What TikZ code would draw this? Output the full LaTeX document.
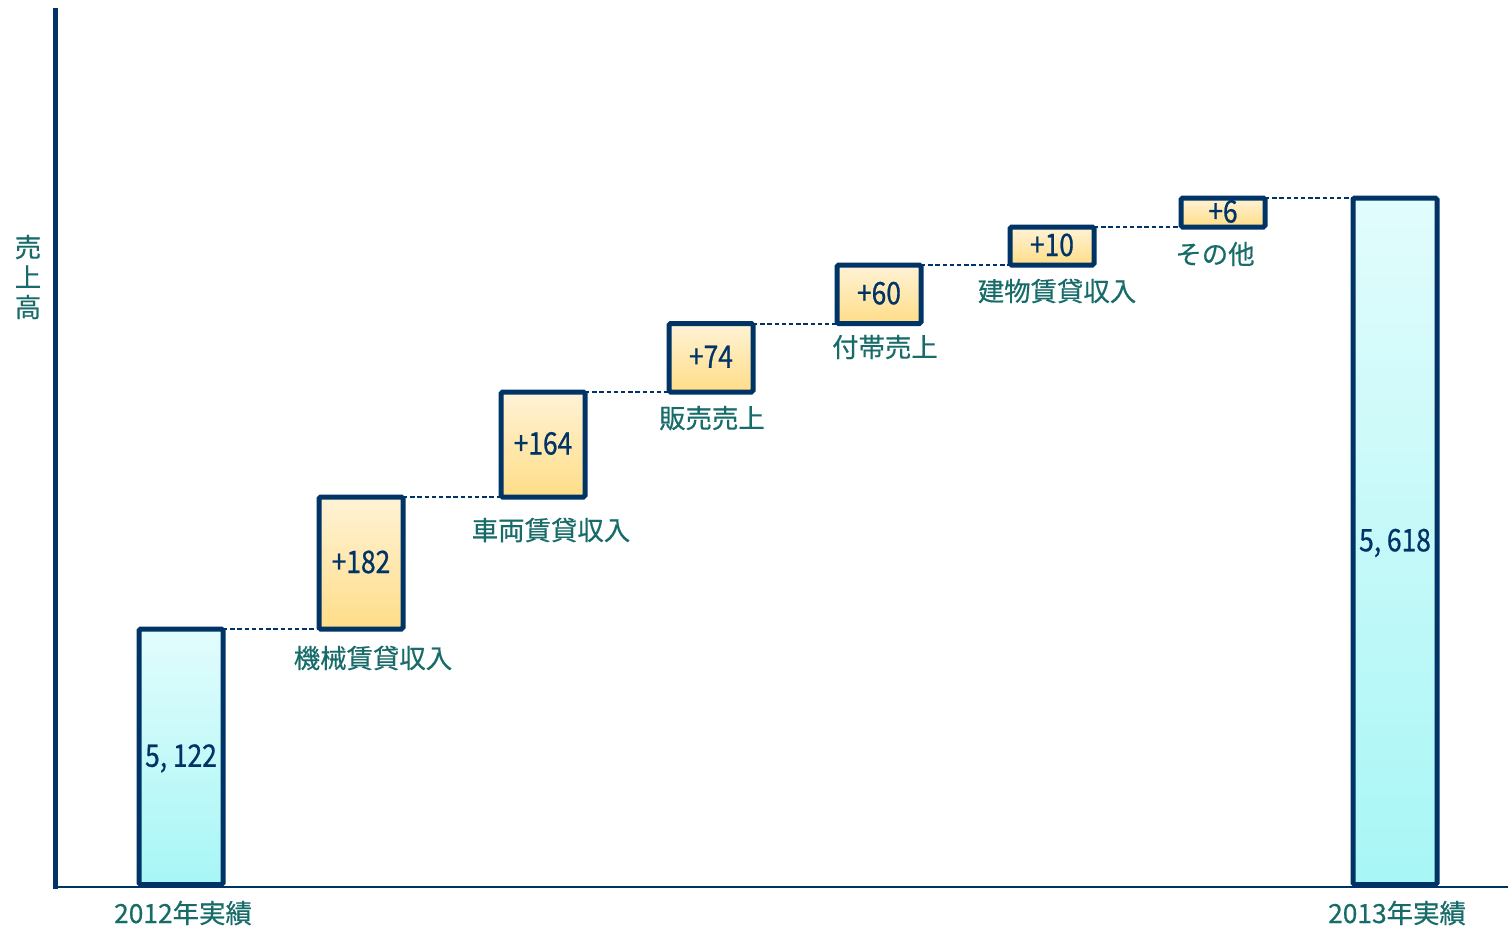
\documentclass[tikz,border=0pt]{standalone}
\usepackage{fontspec}
\setmainfont[FakeBold=0.5]{Noto Sans CJK JP}
\newfontfamily\numfont[FakeStretch=0.85,FakeBold=0.7]{Noto Sans CJK JP}
\definecolor{navy}{RGB}{0,51,102}
\definecolor{labteal}{RGB}{23,108,105}
\definecolor{uptop}{RGB}{255,243,214}
\definecolor{upbot}{RGB}{255,221,136}
\definecolor{totop}{RGB}{226,252,252}
\definecolor{tobot}{RGB}{168,246,246}
\begin{document}
\begin{tikzpicture}[x=0.5pt,y=-0.5pt,
  box/.style={draw=navy, line width=2.5pt, rounded corners=0.8pt, inner sep=0pt, outer sep=0pt,
    minimum width=42pt, text height=10pt, text depth=0pt,
    font=\numfont\fontsize{15.5pt}{15.5pt}\selectfont, text=navy},
  upbox/.style={box, top color=uptop, bottom color=upbot},
  totbox/.style={box, top color=totop, bottom color=tobot},
  lab/.style={text=labteal, font=\fontsize{13.2pt}{15pt}\selectfont, inner sep=0pt},
  link/.style={draw=navy, line width=1pt, dash pattern=on 2.2pt off 1.4pt},
  axisv/.style={draw=navy, line width=2.5pt},
  axish/.style={draw=navy, line width=1pt}]
\useasboundingbox (0,0) rectangle (1508,928);
% axes
\coordinate (vtop) at (55,8);
\coordinate (vbot) at (55,889);
\coordinate (hleft) at (55,887);
\coordinate (hright) at (1508,887);
\draw[axisv] (vtop) -- (vbot);
\draw[axish] (hleft) -- (hright);
% bars and boxes
\node[totbox, minimum height=127.75pt] (b1) at (181,756.75) {5, 122};
\node[upbox, minimum height=66pt] (p1) at (361,563) {+182};
\node[upbox, minimum height=52.5pt] (p2) at (543,444.5) {+164};
\node[upbox, minimum height=34.25pt] (p3) at (711,357.75) {+74};
\node[upbox, minimum height=29.25pt] (p4) at (879,294.25) {+60};
\node[upbox, minimum height=19pt] (p5) at (1052,246) {+10};
\node[upbox, minimum height=14.5pt] (p6) at (1223,212.5) {+6};
\node[totbox, minimum height=343.25pt] (b2) at (1395,541.25) {5, 618};
% links
\draw[link] (b1.north east) -- (p1.south west);
\draw[link] (p1.north east) -- (p2.south west);
\draw[link] (p2.north east) -- (p3.south west);
\draw[link] (p3.north east) -- (p4.south west);
\draw[link] (p4.north east) -- (p5.south west);
\draw[link] (p5.north east) -- (p6.south west);
\draw[link] (p6.north east) -- (b2.north west);
% labels
\node[lab] (l1) at (373,658) {機械賃貸収入};
\node[lab] (l2) at (551,530) {車両賃貸収入};
\node[lab] (l3) at (712,418) {販売売上};
\node[lab] (l4) at (885,347) {付帯売上};
\node[lab] (l5) at (1057,291) {建物賃貸収入};
\node[lab] (l6) at (1215,254) {その他};
\node[lab] (x1) at (183,913) {2012年実績};
\node[lab] (x2) at (1397,913) {2013年実績};
\node[lab, align=center] (ylab) at (28,277) {売\\上\\高};
\end{tikzpicture}
\end{document}
